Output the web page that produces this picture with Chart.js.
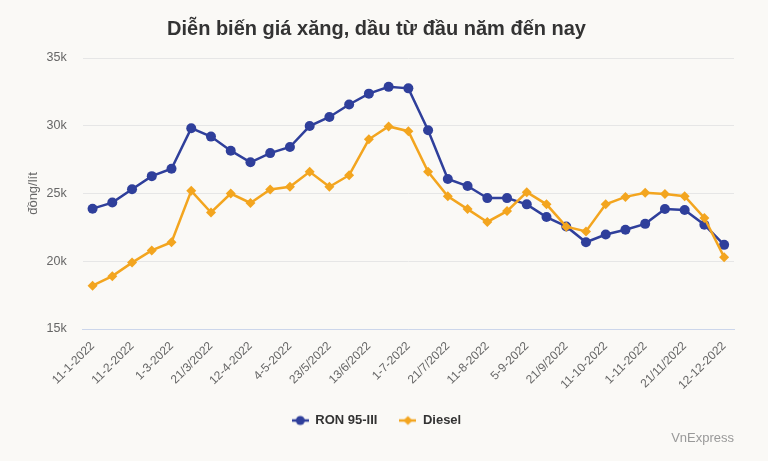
<!DOCTYPE html>
<html lang="vi">
<head>
<meta charset="utf-8">
<script src="https://cdn.jsdelivr.net/npm/chart.js@4"></script>
<style>
    html, body { margin: 0; padding: 0; background: #faf9f6; }
    #wrap { width: 768px; height: 461px; position: relative; }
</style>
</head>
<body>
<div id="wrap"><canvas id="chart"></canvas></div>
<script>
const dates = [
    '11-1-2022', '25-1-2022', '11-2-2022', '21-2-2022', '1-3-2022', '11-3-2022',
    '21/3/2022', '1-4-2022', '12-4-2022', '25-4-2022', '4-5-2022', '11-5-2022',
    '23/5/2022', '1-6-2022', '13/6/2022', '21/6/2022', '1-7-2022', '11-7-2022',
    '21/7/2022', '1-8-2022', '11-8-2022', '22-8-2022', '5-9-2022', '13-9-2022',
    '21/9/2022', '3-10-2022', '11-10-2022', '21-10-2022', '1-11-2022', '11-11-2022',
    '21/11/2022', '1-12-2022', '12-12-2022'
];
const ron95 = [
    23880, 24330, 25320, 26280, 26830, 29820, 29200, 28160, 27300, 27980, 28430,
    29980, 30650, 31570, 32370, 32870, 32760, 29670, 26070, 25550, 24660, 24660,
    24200, 23260, 22570, 21400, 21970, 22320, 22760, 23850, 23780, 22690, 21210
];
const diesel = [
    18200, 18900, 19900, 20800, 21400, 25200, 23600, 25000, 24300, 25300, 25500,
    26600, 25500, 26350, 29000, 29950, 29600, 26600, 24800, 23850, 22900, 23700,
    25100, 24200, 22550, 22200, 24200, 24750, 25050, 24970, 24800, 23200, 20300
];
const yTicks = [15000, 20000, 25000, 30000, 35000];

const BLUE = '#2f3f9b';
const ORANGE = '#f3a51f';
const FONT = "'Liberation Sans', Arial, sans-serif";

// small legend symbol: line with marker in the middle
function legendSymbol(color, style) {
    const c = document.createElement('canvas');
    c.width = 17;
    c.height = 12;
    const g = c.getContext('2d');
    g.strokeStyle = color;
    g.fillStyle = color;
    g.lineWidth = 2.5;
    g.beginPath();
    g.moveTo(0, 6);
    g.lineTo(17, 6);
    g.stroke();
    g.beginPath();
    if (style === 'circle') {
        g.arc(8.5, 6, 4.5, 0, Math.PI * 2);
    } else {
        g.moveTo(8.5, 1.5);
        g.lineTo(13, 6);
        g.lineTo(8.5, 10.5);
        g.lineTo(4, 6);
        g.closePath();
    }
    g.fill();
    return c;
}

const credit = {
    id: 'credit',
    afterDraw(chart) {
        const ctx = chart.ctx;
        ctx.save();
        ctx.font = '13px ' + FONT;
        ctx.fillStyle = '#999999';
        ctx.textAlign = 'right';
        ctx.textBaseline = 'middle';
        ctx.fillText('VnExpress', 734, 438);
        ctx.restore();
    }
};

const chart = new Chart(document.getElementById('chart'), {
    type: 'line',
    data: {
        labels: dates,
        datasets: [
            {
                label: 'RON 95-III',
                data: ron95,
                borderColor: BLUE,
                backgroundColor: BLUE,
                borderWidth: 2.5,
                pointStyle: 'circle',
                pointRadius: 5,
                pointBorderWidth: 0,
                order: 1,
                symbol: legendSymbol(BLUE, 'circle'),
            },
            {
                label: 'Diesel',
                data: diesel,
                borderColor: ORANGE,
                backgroundColor: ORANGE,
                borderWidth: 2.5,
                pointStyle: 'rectRot',
                pointRadius: 5,
                pointBorderWidth: 0,
                order: 0,
                symbol: legendSymbol(ORANGE, 'diamond'),
            },
        ],
    },
    options: {
        responsive: true,
        maintainAspectRatio: false,
        animation: false,
        layout: { padding: { left: 19, right: 34, top: 0, bottom: 24 } },
        scales: {
            x: {
                offset: true,
                grid: { display: false, drawTicks: false },
                border: { color: '#ccd6eb', width: 1 },
                ticks: {
                    autoSkip: false,
                    minRotation: 45,
                    maxRotation: 45,
                    padding: 10,
                    color: '#666666',
                    font: { family: FONT, size: 12 },
                    callback: (v, i) => (i % 2 === 0 ? dates[i] : ''),
                },
                afterFit: (s) => { s.height = 63; },
            },
            y: {
                min: yTicks[0],
                max: yTicks[yTicks.length - 1],
                afterBuildTicks: (s) => { s.ticks = yTicks.map(v => ({ value: v })); },
                grid: {
                    color: (c) => (c.tick && c.tick.value === yTicks[0] ? '#ccd6eb' : '#e6e6e6'),
                    drawTicks: false,
                },
                border: { display: false },
                ticks: {
                    padding: 16,
                    color: '#666666',
                    font: { family: FONT, size: 12.5 },
                    callback: (v) => v / 1000 + 'k',
                },
                title: {
                    display: true,
                    text: 'đồng/lít',
                    color: '#666666',
                    font: { family: FONT, size: 13 },
                    padding: { top: 7, bottom: 0 },
                },
                afterFit: (s) => { s.width = 63.7; },
            },
        },
        plugins: {
            title: {
                display: true,
                text: 'Diễn biến giá xăng, dầu từ đầu năm đến nay',
                color: '#333333',
                font: { family: FONT, size: 20, weight: 'bold' },
                padding: { top: 17, bottom: 17 },
            },
            legend: {
                position: 'bottom',
                labels: {
                    usePointStyle: true,
                    pointStyleWidth: 17,
                    padding: 22,
                    color: '#333333',
                    font: { family: FONT, size: 13, weight: 'bold' },
                    generateLabels: (ch) => ch.data.datasets.map((ds, i) => ({
                        text: ds.label,
                        pointStyle: ds.symbol,
                        fillStyle: ds.borderColor,
                        strokeStyle: ds.borderColor,
                        fontColor: '#333333',
                        lineWidth: 0,
                        hidden: false,
                        datasetIndex: i,
                    })),
                },
            },
            tooltip: { enabled: false },
        },
    },
    plugins: [credit],
});
</script>
</body>
</html>
